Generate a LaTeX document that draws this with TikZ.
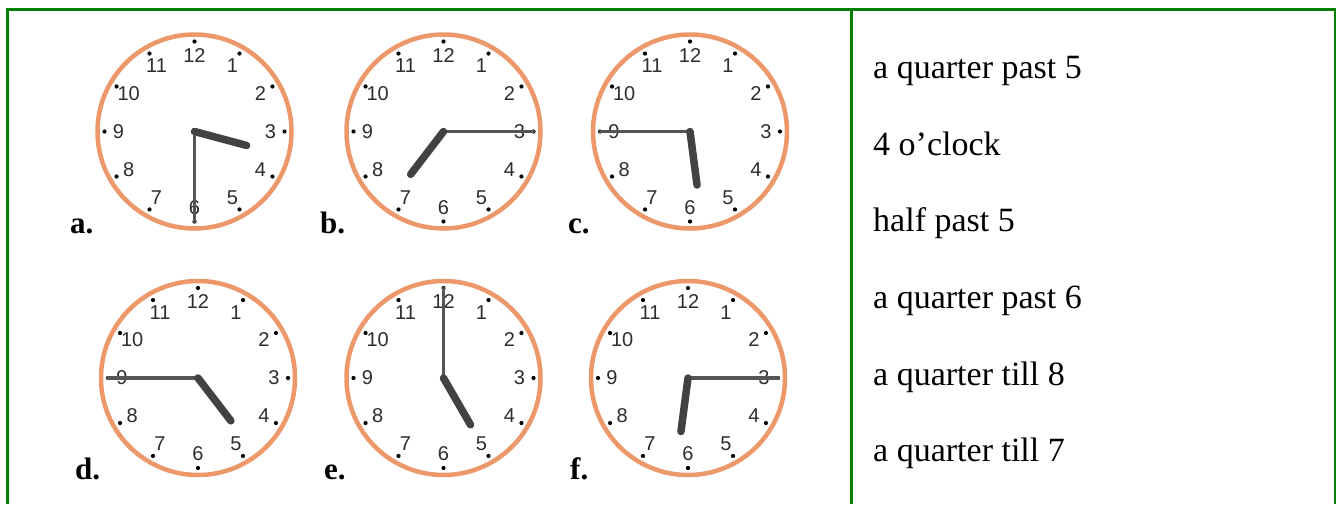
\documentclass[tikz,border=0pt]{standalone}
\usepackage{fontspec}
\setmainfont{Liberation Serif}
\newfontfamily\clockfont{Liberation Sans}
\definecolor{frame}{RGB}{0,128,0}
\definecolor{rim}{RGB}{236,152,106}
\definecolor{handcol}{RGB}{66,66,66}
\definecolor{numcol}{RGB}{45,45,45}
\tikzset{
  framestyle/.style={draw=frame, line width=3pt},
  rimstyle/.style={draw=rim, line width=4.5pt},
  numstyle/.style={font=\clockfont\fontsize{20}{20}\selectfont, text=numcol, inner sep=0pt},
  dotstyle/.style={fill=black},
  hourhand/.style={draw=handcol, line width=7.5pt, line cap=round},
  minutehand/.style={draw=handcol!90!white, line width=3.5pt, line cap=round},
  lbl/.style={font=\bfseries\fontsize{31}{31}\selectfont, inner sep=0pt, anchor=base west},
  ans/.style={font=\fontsize{34}{40}\selectfont, inner sep=0pt, anchor=base west}
}
\newcommand\drawclock[5]{%
  \coordinate (#1c) at (#2,#3);
  \draw[rimstyle] (#1c) circle[radius=97];
  \foreach \h in {1,...,12} {
    \fill[dotstyle] ({#2+90*sin(30*\h)},{#3-90*cos(30*\h)}) circle[radius=2.1];
    \node[numstyle] (#1n\h) at ({#2+76*sin(30*\h)},{#3-76*cos(30*\h)}) {\h};
  }
  \coordinate (#1m) at ({#2+90*sin(#5)},{#3-90*cos(#5)});
  \coordinate (#1h) at ({#2+54*sin(#4)},{#3-54*cos(#4)});
  \draw[minutehand] (#1c) -- (#1m);
  \draw[hourhand] (#1c) -- (#1h);
}
\begin{document}
\begin{tikzpicture}[x=1pt,y=-1pt]
\useasboundingbox (0,0) rectangle (1336,504);
\fill[white] (0,0) rectangle (1336,504);
% frame
\draw[framestyle] (7.5,504) -- (7.5,9.5) -- (1335,9.5) -- (1335,504);
\draw[framestyle] (851.5,9.5) -- (851.5,504);
% clocks
\drawclock{a}{194.5}{131.5}{105}{180}
\drawclock{b}{443.5}{131.5}{217.5}{90}
\drawclock{c}{690}{131.5}{172.5}{270}
\drawclock{d}{198}{378}{142.5}{270}
\drawclock{e}{443.5}{378}{150}{0}
\drawclock{f}{688}{378}{187.5}{90}
% labels
\node[lbl] (la) at (70,233) {a.};
\node[lbl] (lb) at (320,233) {b.};
\node[lbl] (lc) at (568,233) {c.};
\node[lbl] (ld) at (75,479) {d.};
\node[lbl] (le) at (324,479) {e.};
\node[lbl] (lf) at (570,479) {f.};
% answers
\node[ans] (t1) at (873,78) {a quarter past 5};
\node[ans] (t2) at (873,155) {4 o’clock};
\node[ans] (t3) at (873,231) {half past 5};
\node[ans] (t4) at (873,308) {a quarter past 6};
\node[ans] (t5) at (873,385) {a quarter till 8};
\node[ans] (t6) at (873,461) {a quarter till 7};
\end{tikzpicture}
\end{document}
